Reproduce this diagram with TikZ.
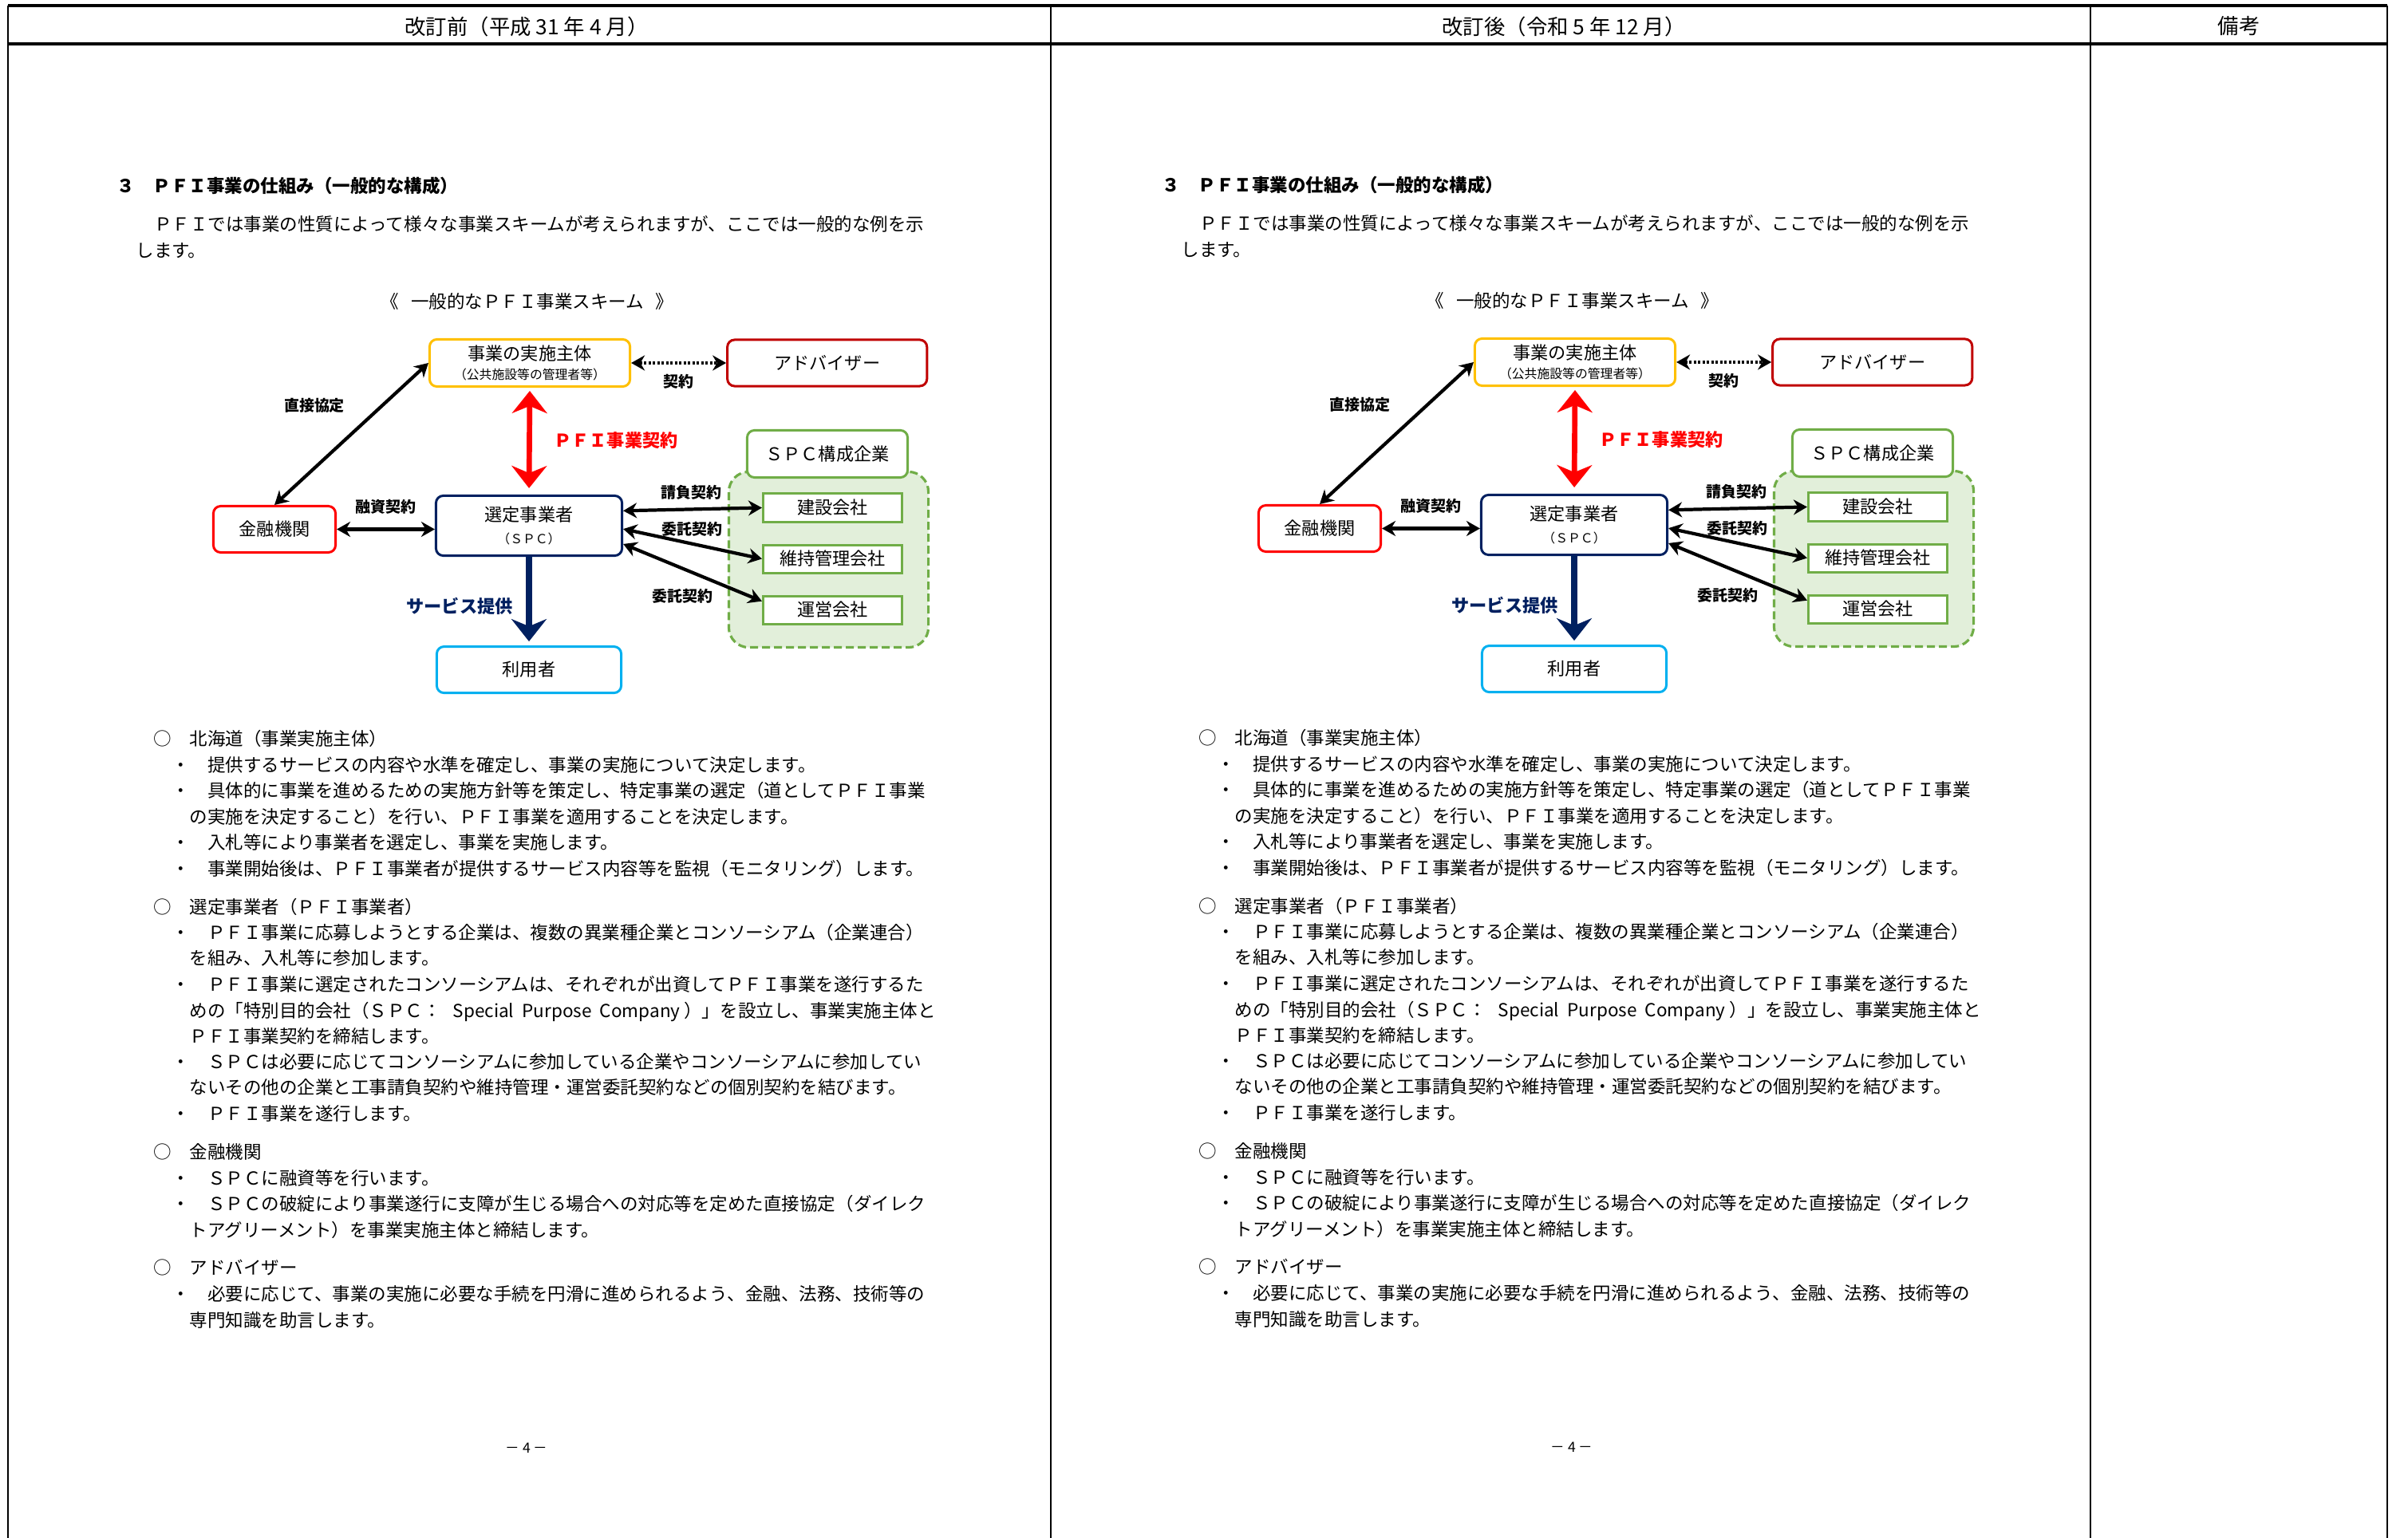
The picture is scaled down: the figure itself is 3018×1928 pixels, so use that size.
\documentclass[tikz,border=0pt]{standalone}
\usepackage{fontspec}
\setmainfont{Noto Sans CJK JP}
\usetikzlibrary{positioning, arrows.meta}
\definecolor{jisshiyellow}{HTML}{FFC000}
\definecolor{advred}{HTML}{C00000}
\definecolor{bankred}{HTML}{FF0000}
\definecolor{spcnavy}{HTML}{002060}
\definecolor{usercyan}{HTML}{00B0F0}
\definecolor{grpgreen}{HTML}{70AD47}
\definecolor{grpfill}{HTML}{E2EFDA}
\newcommand{\fsbody}{\fontsize{6.4pt}{8pt}\selectfont}
\newcommand{\fsbox}{\fontsize{6.3pt}{7.6pt}\selectfont}
\newcommand{\fssmall}{\fontsize{4.5pt}{5.5pt}\selectfont}
\newcommand{\fslbl}{\fontsize{5.4pt}{6.5pt}\selectfont\bfseries}
\newcommand{\fshead}{\fontsize{7.5pt}{9pt}\selectfont}
\tikzset{
	box/.style={draw, rounded corners=0.9mm, line width=0.85pt, fill=white, inner sep=0pt, align=center, font=\fsbox},
	member/.style={draw=grpgreen, line width=0.85pt, fill=white, inner sep=0pt, minimum width=1.74cm, minimum height=0.35cm, font=\fsbox},
	lbl/.style={inner sep=0pt, font=\fslbl},
	txt/.style={anchor=base west, inner sep=0pt, font=\fsbody},
	link/.style={<->, line width=1.2pt, >={Stealth[length=1.7mm, width=1.9mm]}},
	bigarrow/.style={line width=1.9pt, >={Stealth[length=2.8mm, width=4.4mm]}},
	rule/.style={line width=1pt},
}
% one column of the comparison table (diagram + explanation)
\newcommand{\pficolumn}{%
	\node[txt, font=\fsbody\bfseries] (sec) at (146,241.5) {３　ＰＦＩ事業の仕組み（一般的な構成）};
	\node[txt] (intro1) at (170,289.5) {　ＰＦＩでは事業の性質によって様々な事業スキームが考えられますが、ここでは一般的な例を示};
	\node[txt] (intro2) at (170,322.5) {します。};
	\node[anchor=base, inner sep=0pt, font=\fsbody] (scheme) at (661,386.5) {《\hspace{0.15cm}一般的なＰＦＩ事業スキーム\hspace{0.15cm}》};
	%
	\node (grp) [draw=grpgreen, dash pattern=on 1mm off 0.5mm, line width=0.9pt, fill=grpfill, rounded corners=2.5mm, minimum width=2.5cm, minimum height=2.2cm, inner sep=0pt] at (1038.5,701.5) {};
	\node (jisshi) [box, draw=jisshiyellow, minimum width=2.51cm, minimum height=0.59cm] at (664,455) {事業の実施主体\\[-1pt]{\fssmall （公共施設等の管理者等）}};
	\node (advisor) [box, draw=advred, minimum width=2.5cm, minimum height=0.58cm, right=1.19cm of jisshi] {アドバイザー};
	\node (spc) [box, draw=spcnavy, minimum width=2.33cm, minimum height=0.75cm] at (663,659) {選定事業者\\[0.5pt]{\fssmall （ＳＰＣ）}};
	\node (kinyu) [box, draw=bankred, minimum width=1.53cm, minimum height=0.58cm] at (344,663.5) {金融機関};
	\node (riyosha) [box, draw=usercyan, minimum width=2.31cm, minimum height=0.58cm, below=1.11cm of spc] {利用者};
	\node (kosei) [box, draw=grpgreen, minimum width=2.01cm, minimum height=0.59cm] at (1037,569) {ＳＰＣ構成企業};
	\node (kensetsu) [member] at (1043.5,636.5) {建設会社};
	\node (iji) [member, below=0.26cm of kensetsu] {維持管理会社};
	\node (unei) [member, below=0.26cm of iji] {運営会社};
	%
	\draw[link] (kinyu.north) -- (jisshi.west);
	\node[lbl] (l-chokusetsu) at (394,508) {直接協定};
	\draw[link] (kinyu.east) -- (kinyu.east -| spc.west) node[lbl, midway, above=0.17cm] {融資契約};
	\draw[link, dash pattern=on 0.3mm off 0.25mm, line width=1.3pt] (jisshi.east) -- (jisshi.east -| advisor.west) node[lbl, midway, below=0.12cm] {契約};
	\draw[<->, bigarrow, bankred, shorten >=0.8mm, shorten <=0.4mm] (jisshi.south) -- (spc.north);
	\node[lbl, font=\fsbox\bfseries, text=bankred] (l-pfi) at (772,552) {ＰＦＩ事業契約};
	\draw[->, bigarrow, spcnavy, line width=2.2pt, shorten >=0.5mm] (spc.south) -- (riyosha.north);
	\node[lbl, font=\fsbox\bfseries, text=spcnavy] (l-service) at (576,760) {サービス提供};
	\draw[link] (spc.9) -- (kensetsu.west);
	\draw[link] (spc.-2) -- (iji.west);
	\draw[link] (spc.-11) -- (unei.173);
	\node[lbl] (l-ukeoi) at (866,617) {請負契約};
	\node[lbl] (l-itaku1) at (867,663) {委託契約};
	\node[lbl] (l-itaku2) at (855,747) {委託契約};
	%
	\node[txt] (hk0) at (192,934) {○　北海道（事業実施主体）};
	\node[txt] (hk1) at (192,967) {　・　提供するサービスの内容や水準を確定し、事業の実施について決定します。};
	\node[txt] (hk2) at (192,999.5) {　・　具体的に事業を進めるための実施方針等を策定し、特定事業の選定（道としてＰＦＩ事業};
	\node[txt] (hk3) at (192,1032) {　　の実施を決定すること）を行い、ＰＦＩ事業を適用することを決定します。};
	\node[txt] (hk4) at (192,1064.5) {　・　入札等により事業者を選定し、事業を実施します。};
	\node[txt] (hk5) at (192,1097.5) {　・　事業開始後は、ＰＦＩ事業者が提供するサービス内容等を監視（モニタリング）します。};
	%
	\node[txt] (sj0) at (192,1145) {○　選定事業者（ＰＦＩ事業者）};
	\node[txt] (sj1) at (192,1177) {　・　ＰＦＩ事業に応募しようとする企業は、複数の異業種企業とコンソーシアム（企業連合）};
	\node[txt] (sj2) at (192,1209.5) {　　を組み、入札等に参加します。};
	\node[txt] (sj3) at (192,1242) {　・　ＰＦＩ事業に選定されたコンソーシアムは、それぞれが出資してＰＦＩ事業を遂行するた};
	\node[txt] (sj4) at (192,1275) {　　めの「特別目的会社（ＳＰＣ：\hspace{0.15cm}\makebox[2.845cm][s]{Special Purpose Company}\hspace{0.05cm}）」を設立し、事業実施主体と};
	\node[txt] (sj5) at (192,1307) {　　ＰＦＩ事業契約を締結します。};
	\node[txt] (sj6) at (192,1339) {　・　ＳＰＣは必要に応じてコンソーシアムに参加している企業やコンソーシアムに参加してい};
	\node[txt] (sj7) at (192,1371) {　　ないその他の企業と工事請負契約や維持管理・運営委託契約などの個別契約を結びます。};
	\node[txt] (sj8) at (192,1404) {　・　ＰＦＩ事業を遂行します。};
	%
	\node[txt] (kk0) at (192,1452) {○　金融機関};
	\node[txt] (kk1) at (192,1485) {　・　ＳＰＣに融資等を行います。};
	\node[txt] (kk2) at (192,1517) {　・　ＳＰＣの破綻により事業遂行に支障が生じる場合への対応等を定めた直接協定（ダイレク};
	\node[txt] (kk3) at (192,1550) {　　トアグリーメント）を事業実施主体と締結します。};
	%
	\node[txt] (ad0) at (192,1597.5) {○　アドバイザー};
	\node[txt] (ad1) at (192,1630.5) {　・　必要に応じて、事業の実施に必要な手続を円滑に進められるよう、金融、法務、技術等の};
	\node[txt] (ad2) at (192,1663.5) {　　専門知識を助言します。};
	%
	\node[inner sep=0pt, font=\fontsize{5pt}{6pt}\selectfont] (pg) at (660,1815) {－ 4 －};
}

\begin{document}
\begin{tikzpicture}[x=0.01cm, y=-0.01cm]
	\path[use as bounding box, fill=white] (0,0) rectangle (3018,1928);
	% table frame
	\draw[rule] (10,7) -- (2992,7);
	\draw[rule] (10,55) -- (2992,55);
	\draw[line width=0.6pt] (10,7) -- (10,1928);
	\draw[line width=0.6pt] (1317,7) -- (1317,1928);
	\draw[line width=0.6pt] (2620,7) -- (2620,1928);
	\draw[line width=0.6pt] (2992,7) -- (2992,1928);
	\node[inner sep=0pt, font=\fshead] (hd-before) at (660,33) {改訂前（平成 31 年 4 月）};
	\node[inner sep=0pt, font=\fshead] (hd-after) at (1960,33) {改訂後（令和 5 年 12 月）};
	\node[inner sep=0pt, font=\fshead] (hd-note) at (2806,33) {備考};
	
	\begin{scope}
		\pficolumn
	\end{scope}
	\begin{scope}[shift={(1310,-1)}]
		\pficolumn
	\end{scope}
\end{tikzpicture}
\end{document}
